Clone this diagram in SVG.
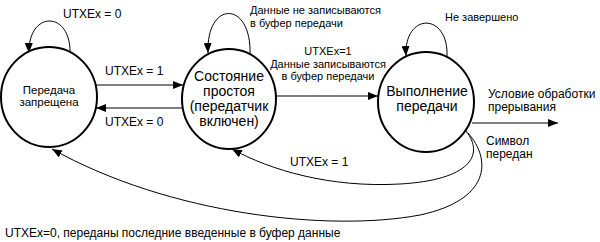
<svg xmlns="http://www.w3.org/2000/svg" width="600" height="242" viewBox="0 0 600 242">
<style>
  .st { fill: #fff; stroke: #000; stroke-width: 2; }
  .ln { fill: none; stroke: #000; stroke-width: 1; }
  text { font-family: "Liberation Sans", Arial, sans-serif; fill: #000; }
  .big { font-size: 14px; text-anchor: middle; }
  .mid { font-size: 12px; }
  .in1 { font-size: 11.5px; text-anchor: middle; }
  .sm { font-size: 11px; }
  .c { text-anchor: middle; }
</style>
<defs>
  <marker id="ah" viewBox="0 0 10 8" refX="10" refY="4" markerWidth="10" markerHeight="8" markerUnits="userSpaceOnUse" orient="auto">
    <path d="M0,0 L10,4 L0,8 Z" fill="#000"/>
  </marker>
</defs>
<rect width="600" height="242" fill="#fff"/>
<g id="connectors">
  <path class="ln" d="M70,55 C72,10 28,10 29,53" marker-end="url(#ah)"/>
  <path class="ln" d="M250,55 C252,0 206,0 208,53" marker-end="url(#ah)"/>
  <path class="ln" d="M447,57 C449,12 404,12 406,56" marker-end="url(#ah)"/>
  <line class="ln" x1="96" y1="85" x2="183" y2="85" marker-end="url(#ah)"/>
  <line class="ln" x1="183" y1="108" x2="96" y2="108" marker-end="url(#ah)"/>
  <line class="ln" x1="276" y1="96" x2="378" y2="96" marker-end="url(#ah)"/>
  <line class="ln" x1="472" y1="123" x2="558" y2="123" marker-end="url(#ah)"/>
  <path class="ln" d="M466,131 C485,155 470,180 400,184 C330,188 270,170 232,149" marker-end="url(#ah)"/>
  <path class="ln" d="M468,133 C492,160 490,200 420,215 C330,232 170,215 52,149" marker-end="url(#ah)"/>
</g>
<g id="labels">
  <text class="mid" x="63" y="18">UTXEx = 0</text>
  <text class="mid" x="105" y="75">UTXEx = 1</text>
  <text class="mid" x="105" y="126">UTXEx = 0</text>
  <text class="sm" x="250" y="14">Данные не записываются</text>
  <text class="sm" x="250" y="27">в буфер передачи</text>
  <text class="sm c" x="328" y="55">UTXEx=1</text>
  <text class="sm c" x="328" y="67.5">Данные записываются</text>
  <text class="sm c" x="328" y="80">в буфер передачи</text>
  <text class="sm" x="445" y="21">Не завершено</text>
  <text class="mid" x="488" y="98">Условие обработки</text>
  <text class="mid" x="488" y="111">прерывания</text>
  <text class="mid" x="486" y="145">Символ</text>
  <text class="mid" x="486" y="158">передан</text>
  <text class="mid" x="290" y="166">UTXEx = 1</text>
  <text class="mid" x="5" y="237">UTXEx=0, переданы последние введенные в буфер данные</text>
</g>
<g id="state-disabled">
  <ellipse class="st" cx="49" cy="97" rx="48" ry="50"/>
  <text class="in1" x="49" y="93.5">Передача</text>
  <text class="in1" x="49" y="106">запрещена</text>
</g>
<g id="state-idle">
  <ellipse class="st" cx="229" cy="99" rx="47" ry="50"/>
  <text class="big" x="229" y="80.5">Состояние</text>
  <text class="big" x="229" y="95.5">простоя</text>
  <text class="big" x="229" y="110.5">(передатчик</text>
  <text class="big" x="229" y="125.5">включен)</text>
</g>
<g id="state-transmit">
  <ellipse class="st" cx="426" cy="102" rx="48" ry="50"/>
  <text class="big" x="427" y="95.5">Выполнение</text>
  <text class="big" x="427" y="110.5">передачи</text>
</g>
</svg>
